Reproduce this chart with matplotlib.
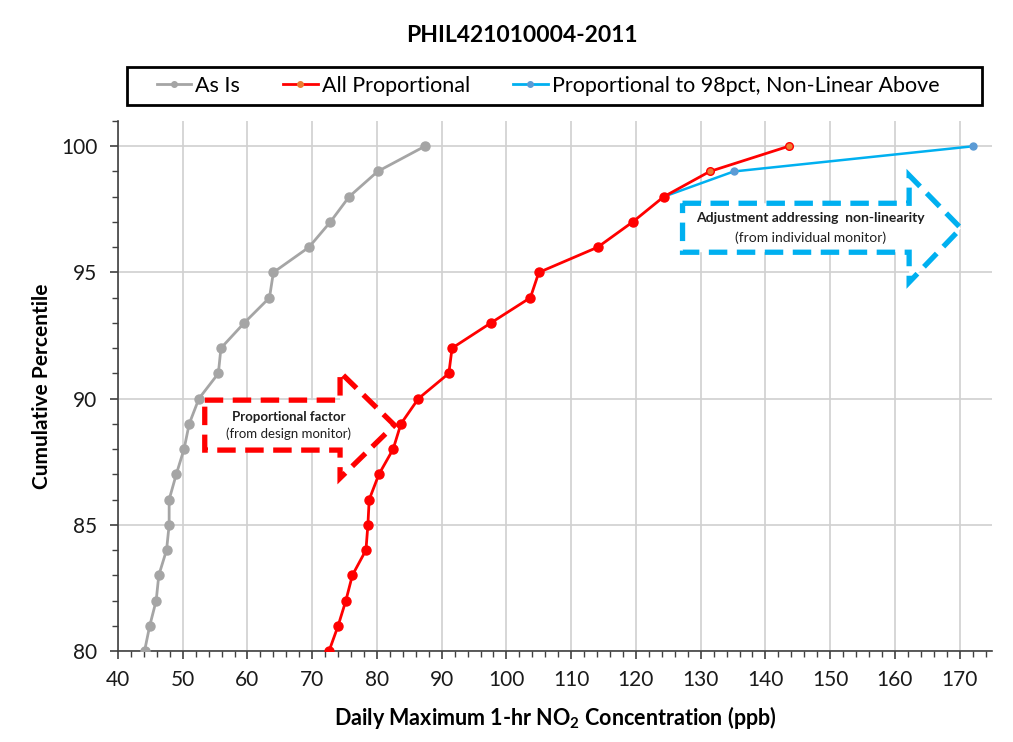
import matplotlib.pyplot as plt
from matplotlib.patches import Polygon, Rectangle
from matplotlib.ticker import MultipleLocator

plt.rcParams['font.family'] = ['Lato', 'DejaVu Sans']

# cumulative percentiles
pct = list(range(80, 101))

# As Is
as_is = [44.1, 44.9, 45.9, 46.3, 47.5, 47.9, 47.9, 49.0, 50.2, 51.0, 52.5,
         55.5, 55.9, 59.5, 63.4, 64.0, 69.5, 72.8, 75.7, 80.1, 87.4]

# All Proportional
all_prop = [72.6, 74.0, 75.2, 76.2, 78.3, 78.6, 78.8, 80.3, 82.5, 83.7, 86.4,
            91.1, 91.6, 97.6, 103.7, 105.0, 114.1, 119.5, 124.3, 131.4, 143.6]

# Proportional to 98pct, Non-Linear Above
nl_pct = [98, 99, 100]
nl_vals = [124.3, 135.1, 172.1]

gray = '#A5A5A5'
red = '#FF0000'
orange = '#ED7D31'
blue = '#00B0F0'
blue_mk = '#5B9BD5'

fig = plt.figure(figsize=(10.13, 7.42), dpi=100)
ax = fig.add_axes([118 / 1013, 1 - 651 / 742, (992 - 118) / 1013, (651 - 121) / 742])

ax.plot(as_is, pct, color=gray, lw=2, marker='o', ms=6.5, zorder=3)
ax.plot(nl_vals, nl_pct, color=blue, lw=1.8, marker='o', ms=5,
        mfc=blue_mk, mec=blue_mk, zorder=3)
ax.plot(all_prop[:-2], pct[:-2], color=red, lw=2, marker='o', ms=6.5, zorder=4)
ax.plot(all_prop[-3:], pct[-3:], color=red, lw=2, zorder=4)
ax.plot(all_prop[-2:], pct[-2:], ls='none', marker='o', ms=5.5,
        mfc=orange, mec=red, mew=1, zorder=4)

ax.set_xlim(40, 175)
ax.set_ylim(80, 101)
ax.xaxis.set_major_locator(MultipleLocator(10))
ax.xaxis.set_minor_locator(MultipleLocator(2))
ax.set_yticks([80, 85, 90, 95, 100])
ax.yaxis.set_minor_locator(MultipleLocator(1))
ax.grid(True, which='major', color='#D0D0D0', lw=1.2)
ax.set_axisbelow(True)
for s in ['top', 'right']:
    ax.spines[s].set_visible(False)
for s in ['left', 'bottom']:
    ax.spines[s].set_color('#404040')
    ax.spines[s].set_linewidth(1.2)
ax.tick_params(which='major', direction='out', length=6, width=1.2, colors='#404040',
               labelsize=15, labelcolor='#1A1A1A')
ax.tick_params(which='minor', direction='out', length=4, width=1.0, colors='#404040')
ax.tick_params(axis='y', pad=9)
ax.tick_params(axis='x', pad=8)

ax.set_xlabel('Daily Maximum 1-hr NO$_\\mathregular{2}$ Concentration (ppb)',
              fontsize=15.5, fontweight='bold', labelpad=10)
ax.set_ylabel('Cumulative Percentile', fontsize=15, fontweight='bold', labelpad=6)
fig.text(0.515, 1 - 36 / 742, 'PHIL421010004-2011', ha='center', va='center',
         fontsize=16.5, fontweight='bold')

# dashed block arrows
red_arrow = [(53.4, 89.94), (74.3, 89.94), (74.3, 91.05), (82.7, 88.95),
             (74.3, 86.85), (74.3, 87.96), (53.4, 87.96)]
ax.add_patch(Polygon(red_arrow, closed=True, fc='white', ec=red, lw=3.8,
                     ls=(0, (3.5, 1.8)), zorder=2.5))
ax.text(66.3, 89.28, 'Proportional factor', ha='center', va='center',
        fontsize=9.5, fontweight='bold', color='#1F1F1F', zorder=6)
ax.text(66.3, 88.59, '(from design monitor)', ha='center', va='center',
        fontsize=9.5, color='#1F1F1F', zorder=6)

blue_arrow = [(127.2, 97.74), (162.2, 97.74), (162.2, 98.85), (170.2, 96.75),
              (162.2, 94.61), (162.2, 95.80), (127.2, 95.80)]
ax.add_patch(Polygon(blue_arrow, closed=True, fc='white', ec=blue, lw=3.8,
                     ls=(0, (3.5, 1.8)), zorder=2.5))
ax.text(147.0, 97.15, 'Adjustment addressing  non-linearity', ha='center', va='center',
        fontsize=10, fontweight='bold', color='#1F1F1F', zorder=6)
ax.text(147.0, 96.36, '(from individual monitor)', ha='center', va='center',
        fontsize=10, color='#1F1F1F', zorder=6)

# legend with box
fig.patches.append(Rectangle((127 / 1013, 1 - 105 / 742), 855 / 1013, 38 / 742,
                             transform=fig.transFigure, fill=False, ec='black', lw=2))
h1, = ax.plot([], [], color=gray, lw=2, marker='o', ms=4)
h2, = ax.plot([], [], color=red, lw=2, marker='o', ms=4, mfc=orange, mec=orange)
h3, = ax.plot([], [], color=blue, lw=2, marker='o', ms=4, mfc=blue_mk, mec=blue_mk)
fig.legend([h1, h2, h3], ['As Is', 'All Proportional', 'Proportional to 98pct, Non-Linear Above'],
           loc='center', bbox_to_anchor=(548 / 1013, 1 - 86 / 742), ncol=3, frameon=False,
           fontsize=15.5, handlelength=1.6, handletextpad=0.2, columnspacing=2.0)

fig.savefig('out.png', dpi=100)
